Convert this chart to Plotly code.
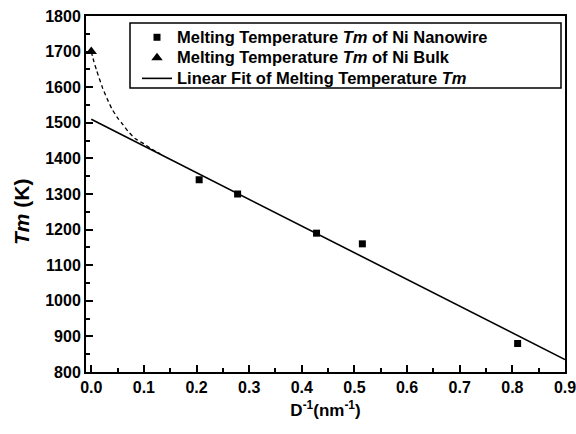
import plotly.graph_objects as go

# Data
nano_x = [0.205, 0.278, 0.428, 0.515, 0.810]
nano_y = [1340, 1300, 1190, 1160, 880]
bulk_x = [0.0]
bulk_y = [1700]
fit_x = [0.0, 0.9]
fit_y = [1510, 835]
guide_x = [0.0, 0.005, 0.010, 0.021, 0.030, 0.040, 0.050, 0.059, 0.070, 0.084, 0.100, 0.115, 0.131]
guide_y = [1700, 1672, 1648, 1600, 1568, 1537, 1514, 1497, 1476, 1455, 1441, 1426, 1413]

x_ticks = [0.0, 0.1, 0.2, 0.3, 0.4, 0.5, 0.6, 0.7, 0.8, 0.9]
y_ticks = [800, 900, 1000, 1100, 1200, 1300, 1400, 1500, 1600, 1700, 1800]

font_family = "Arial, Liberation Sans, sans-serif"
W, H = 576, 434
ML, MR, MT, MB = 86, 11, 16, 62
pw = W - ML - MR
ph = H - MT - MB


def px_x(page_x):
    return (page_x - ML) / pw


def px_y(page_y):
    return (H - MB - page_y) / ph


def leg(txt):
    return f'<span style="font-size:16.5px"><b>{txt}</b></span>'


fig = go.Figure()
fig.add_trace(go.Scatter(
    x=guide_x, y=guide_y, mode="lines",
    line=dict(color="black", width=1.3, dash="4px,3px", shape="spline", smoothing=0.6),
    showlegend=False, hoverinfo="skip"))
fig.add_trace(go.Scatter(
    x=nano_x, y=nano_y, mode="markers",
    marker=dict(symbol="square", size=7, color="black"),
    name=leg("Melting Temperature <i>Tm</i> of Ni Nanowire")))
fig.add_trace(go.Scatter(
    x=bulk_x, y=bulk_y, mode="markers",
    marker=dict(symbol="triangle-up", size=10, color="black"),
    name=leg("Melting Temperature <i>Tm</i> of Ni Bulk"), cliponaxis=False))
fig.add_trace(go.Scatter(
    x=fit_x, y=fit_y, mode="lines",
    line=dict(color="black", width=1.6),
    name=leg("Linear Fit of Melting Temperature <i>Tm</i>")))

fig.update_layout(
    width=W, height=H,
    margin=dict(l=ML, r=MR, t=MT, b=MB, autoexpand=False),
    paper_bgcolor="white", plot_bgcolor="white",
    font=dict(family=font_family, color="black", size=15),
    legend=dict(
        x=px_x(137), y=px_y(22), xanchor="left", yanchor="top",
        bgcolor="rgba(0,0,0,0)", borderwidth=0,
        font=dict(size=13.5, family=font_family, color="black"),
        tracegroupgap=0, itemwidth=30),
    shapes=[dict(
        type="rect", xref="paper", yref="paper", layer="below",
        x0=px_x(130), x1=px_x(561), y0=px_y(88), y1=px_y(23),
        line=dict(color="black", width=1.5), fillcolor="white")],
    xaxis=dict(
        range=[-0.01, 0.9], tickvals=x_ticks,
        ticktext=[f"<b>{v:.1f}</b>" for v in x_ticks],
        ticks="inside", ticklen=7, tickwidth=1.5, tickcolor="black",
        minor=dict(ticks="inside", ticklen=4, tickwidth=1.5, tickcolor="black", dtick=0.05),
        showline=True, linewidth=2, linecolor="black", mirror=True,
        showgrid=False, zeroline=False, automargin=False,
        ticklabeloverflow="allow",
        tickfont=dict(size=16),
        title=dict(text="<b>D<sup>-1</sup>(nm<sup>-1</sup>)</b>", font=dict(size=17), standoff=9)),
    yaxis=dict(
        range=[800, 1800], tickvals=y_ticks,
        ticktext=[f"<b>{v}</b>" for v in y_ticks],
        ticks="inside", ticklen=7, tickwidth=1.5, tickcolor="black",
        minor=dict(ticks="inside", ticklen=4, tickwidth=1.5, tickcolor="black", dtick=50),
        showline=True, linewidth=2, linecolor="black", mirror=True,
        showgrid=False, zeroline=False, automargin=False,
        ticklabeloverflow="allow",
        tickfont=dict(size=16)),
    annotations=[dict(
        text="<b><i>Tm</i> (K)</b>", textangle=-90, showarrow=False,
        xref="paper", yref="paper",
        x=px_x(21), y=px_y(212),
        xanchor="center", yanchor="middle", font=dict(size=21))],
)

fig.write_html("out.html", config={"displayModeBar": False},
               post_script="document.body.style.margin='0';")
